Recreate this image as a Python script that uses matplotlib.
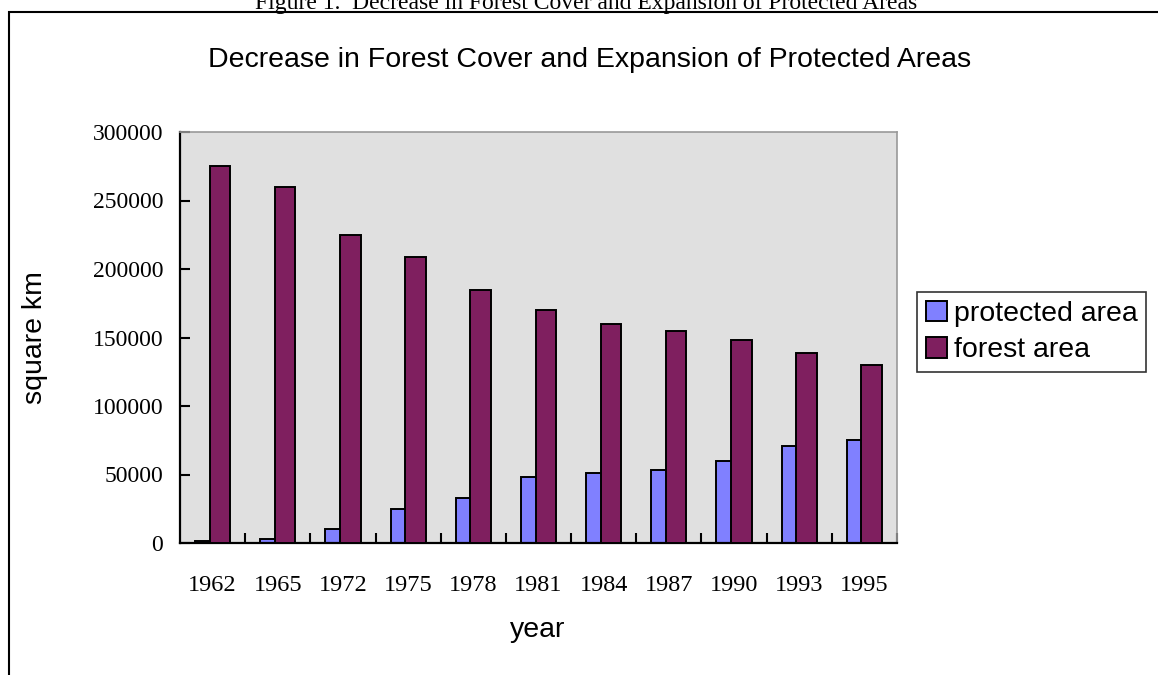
import matplotlib.pyplot as plt
import matplotlib.patches as mpatches
import numpy as np

years = ['1962', '1965', '1972', '1975', '1978', '1981', '1984', '1987', '1990', '1993', '1995']
protected_area = [1500, 3000, 10000, 25000, 33000, 48000, 51000, 53000, 60000, 70500, 75000]
forest_area = [275000, 260000, 225000, 209000, 185000, 170000, 160000, 155000, 148000, 139000, 130000]
y_ticks = [0, 50000, 100000, 150000, 200000, 250000, 300000]

serif = 'Liberation Serif'
sans = 'Liberation Sans'

fig = plt.figure(figsize=(11.58, 6.75), dpi=100)
ax = fig.add_axes([180/1158, 1 - 543/675, 717/1158, 411/675])
ax.set_facecolor('#E0E0E0')

x = np.arange(len(years))
w = 0.316
ax.bar(x - 0.1125, protected_area, w, color='#8080FF', edgecolor='black', linewidth=1.4,
       label='protected area', zorder=2)
ax.bar(x + 0.1125, forest_area, w, color='#7F1F5F', edgecolor='black', linewidth=1.4,
       label='forest area', zorder=3)

ax.set_xlim(-0.5, len(years) - 0.5)
ax.set_ylim(0, 300000)
ax.set_yticks(y_ticks)
ax.set_yticklabels([str(v) for v in y_ticks], fontfamily=serif, fontsize=17)
ax.set_xticks(x)
ax.set_xticklabels(years, fontfamily=serif, fontsize=17.5)
ax.tick_params(axis='x', which='major', length=0, pad=23)
ax.set_xticks(np.arange(0.5, len(years), 1), minor=True)
ax.tick_params(axis='x', which='minor', direction='in', length=7, width=1.5, color='black')
ax.tick_params(axis='y', direction='in', length=7, width=1.5, pad=12)

for s in ['left', 'bottom']:
    ax.spines[s].set_color('black')
    ax.spines[s].set_linewidth(1.6)
for s in ['top', 'right']:
    ax.spines[s].set_color('#999999')
    ax.spines[s].set_linewidth(1.2)

fig.text(589.5/1158, 1 - 60/675, 'Decrease in Forest Cover and Expansion of Protected Areas',
         ha='center', va='center', fontfamily=sans, fontsize=20.5)
fig.text(35/1158, 1 - 338/675, 'square km', rotation=90, ha='center', va='center',
         fontfamily=sans, fontsize=20.5)
fig.text(538/1158, 1 - 630/675, 'year', ha='center', va='center', fontfamily=sans, fontsize=20.5)
fig.text(586/1158, 1 - 9/675, 'Figure 1.  Decrease in Forest Cover and Expansion of Protected Areas',
         ha='center', va='baseline', fontfamily=serif, fontsize=17)

# outer chart border
fig.patches.append(mpatches.Rectangle((9/1158, -0.05), 1.1, 1.05 - 12/675,
                                      transform=fig.transFigure, fill=False,
                                      edgecolor='black', linewidth=1.5))

leg = fig.legend(loc='upper left', bbox_to_anchor=(917/1158, 1 - 292/675),
                 prop={'family': sans, 'size': 20.5}, frameon=True, fancybox=False,
                 edgecolor='black', borderpad=0.3, handlelength=0.75, handleheight=0.75,
                 handletextpad=0.25, labelspacing=0.35, borderaxespad=0)
leg.get_frame().set_linewidth(1.2)

plt.savefig('out.png', dpi=100)
